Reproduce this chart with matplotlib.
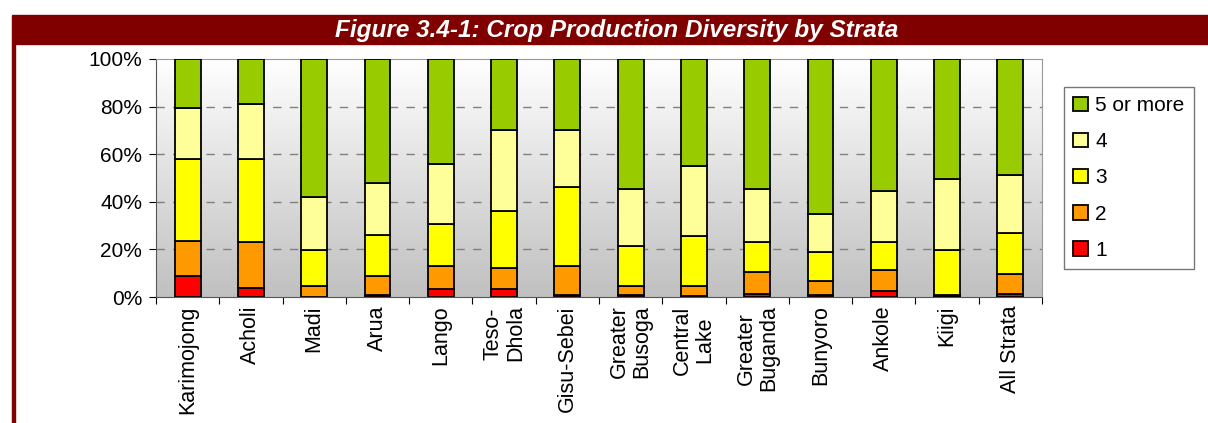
import numpy as np
import matplotlib
matplotlib.use("Agg")
import matplotlib.pyplot as plt
from matplotlib.patches import Rectangle
from matplotlib.colors import LinearSegmentedColormap

plt.rcParams['font.family'] = ['Liberation Sans', 'DejaVu Sans']

# strata and share of households (%) by number of crops grown
strata = ["Karimojong", "Acholi", "Madi", "Arua", "Lango", "Teso-\nDhola",
          "Gisu-Sebei", "Greater\nBusoga", "Central\nLake", "Greater\nBuganda",
          "Bunyoro", "Ankole", "Kiigi", "All Strata"]
one = [9.0, 3.8, 0.0, 0.7, 3.2, 3.2, 0.7, 0.7, 0.3, 1.4, 0.7, 2.5, 0.5, 1.1]
two = [14.6, 19.1, 4.6, 8.3, 9.9, 9.0, 12.4, 4.1, 4.3, 9.3, 6.0, 8.9, 0.3, 8.7]
three = [34.3, 35.0, 15.1, 17.1, 17.4, 24.0, 33.2, 16.7, 21.0, 12.3, 12.1, 11.6, 19.0, 17.2]
four = [21.5, 23.1, 22.4, 21.7, 25.4, 34.0, 23.9, 24.0, 29.6, 22.5, 15.9, 21.5, 29.9, 24.1]
five_plus = [20.6, 19.0, 57.9, 52.2, 44.1, 29.8, 29.8, 54.5, 44.8, 54.5, 65.3, 55.5, 50.3, 48.9]

series = [("1", one, "#ff0000"), ("2", two, "#ff9900"), ("3", three, "#ffff00"),
          ("4", four, "#ffff99"), ("5 or more", five_plus, "#99cc00")]

fig = plt.figure(figsize=(12.08, 4.23), dpi=100)

# title band and left rule
fig.patches.append(Rectangle((12 / 1208, 1 - 44 / 423), 1.0, 29 / 423,
                             transform=fig.transFigure, color="#800000", zorder=0))
fig.patches.append(Rectangle((12 / 1208, 0), 2.5 / 1208, 1 - 44 / 423,
                             transform=fig.transFigure, color="#800000", zorder=0))
fig.text(617 / 1208, 1 - 30 / 423, "Figure 3.4-1: Crop Production Diversity by Strata",
         color="white", fontsize=17.5, fontweight="bold", style="italic",
         ha="center", va="center")

ax = fig.add_axes([156 / 1208, 1 - 297 / 423, 886 / 1208, 238 / 423])

# grey gradient background, white at top
grad = np.linspace(0, 1, 256).reshape(-1, 1)
ax.imshow(grad, cmap=LinearSegmentedColormap.from_list("bg", ["#ffffff", "#c0c0c0"]),
          aspect="auto", extent=[0, 1, 0, 1], origin="upper",
          transform=ax.transAxes, zorder=0)

x = np.arange(len(strata))
bottom = np.zeros(len(strata))
handles = []
for name, vals, col in series:
    b = ax.bar(x, vals, 0.41, bottom=bottom, color=col, edgecolor="black",
               linewidth=1.3, label=name, zorder=3)
    handles.append(b)
    bottom += np.array(vals)

ax.set_xlim(-0.5, len(strata) - 0.5)
ax.set_ylim(0, 100)
ax.set_yticks([0, 20, 40, 60, 80, 100])
ax.set_yticklabels(["0%", "20%", "40%", "60%", "80%", "100%"], fontsize=15)
for yv in [20, 40, 60, 80]:
    ax.axhline(yv, color="#808080", linestyle=(0, (6, 6)), linewidth=1, zorder=1)

ax.set_xticks(np.arange(len(strata) + 1) - 0.5, minor=False)
ax.set_xticklabels([])
ax.set_xticks(x, minor=True)
ax.set_xticklabels(strata, minor=True, rotation=90, fontsize=15.5,
                   ha="center", va="top", linespacing=1.1)
ax.tick_params(axis="x", which="minor", length=0, pad=6)
ax.tick_params(axis="x", which="major", length=5, color="black", direction="out")
ax.tick_params(axis="y", length=5, color="black", pad=5)

for s in ["top", "right"]:
    ax.spines[s].set_color("#999999")
ax.spines["left"].set_color("#555555")
ax.spines["bottom"].set_color("#555555")

leg = fig.legend(handles[::-1], [s[0] for s in series][::-1],
                 loc="center left", bbox_to_anchor=(1064 / 1208, 1 - 178 / 423),
                 fontsize=15, frameon=True, fancybox=False, edgecolor="#555555",
                 handlelength=0.7, handleheight=0.7, handletextpad=0.35,
                 labelspacing=0.82, borderpad=0.45, borderaxespad=0)
leg.get_frame().set_linewidth(1.0)

fig.savefig("out.png", dpi=100)
